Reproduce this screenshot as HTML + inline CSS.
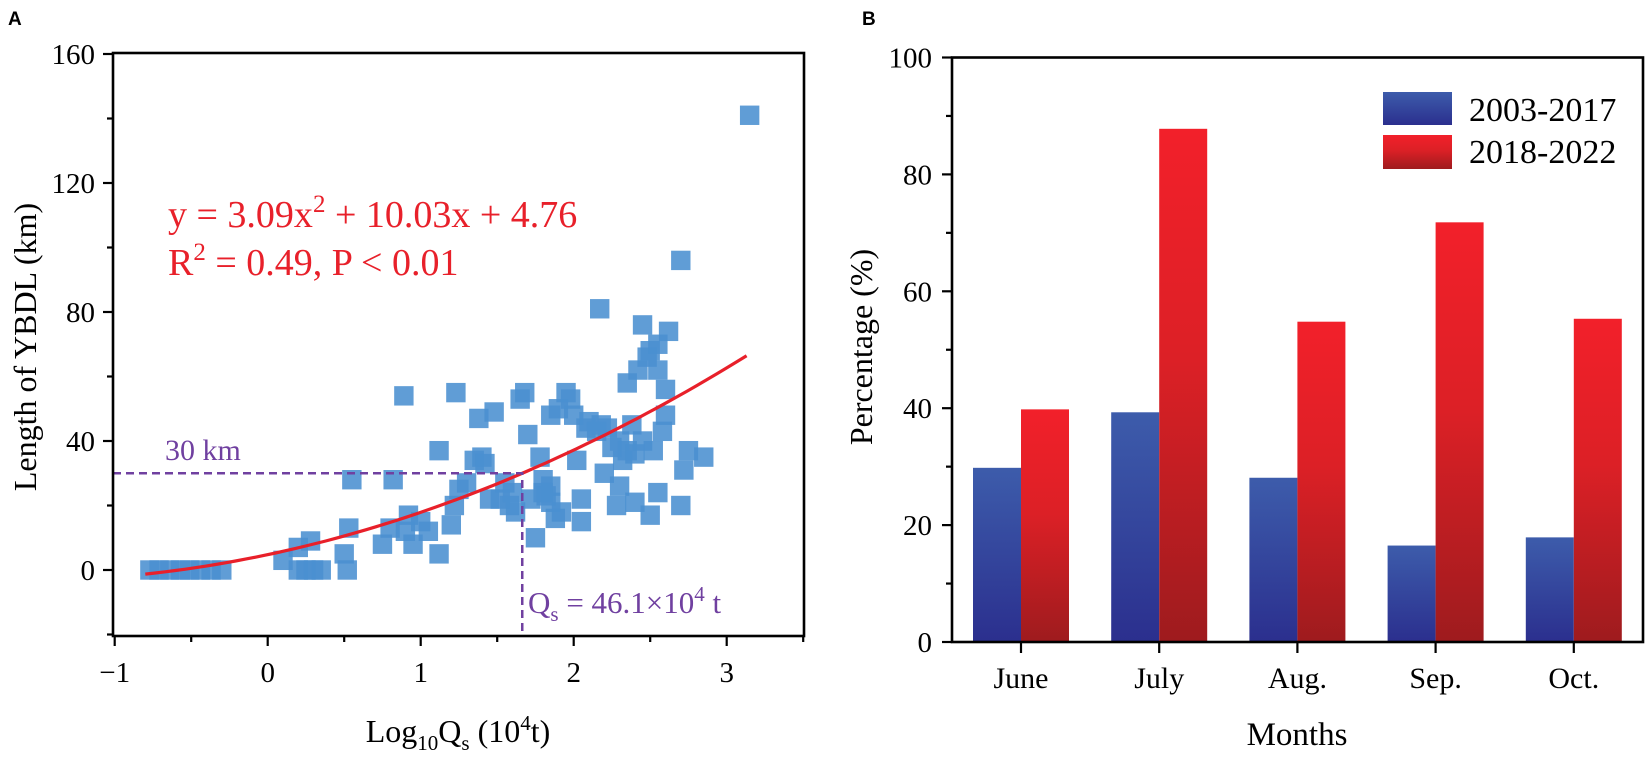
<!DOCTYPE html>
<html><head><meta charset="utf-8"><style>
body{margin:0;background:#fff;}
svg{display:block;font-family:"Liberation Serif",serif;}
</style></head><body>
<svg width="1647" height="763" viewBox="0 0 1647 763">
<defs>
<linearGradient id="gBlue" x1="0" y1="0" x2="0" y2="1"><stop offset="0" stop-color="#3d5cab"/><stop offset="1" stop-color="#2b2f8e"/></linearGradient>
<linearGradient id="gRed" x1="0" y1="0" x2="0" y2="1"><stop offset="0" stop-color="#f2202a"/><stop offset="0.45" stop-color="#dc2026"/><stop offset="1" stop-color="#9e1b1e"/></linearGradient>
</defs>
<text x="8" y="25" font-family="Liberation Sans" font-weight="bold" font-size="19">A</text>
<text x="862" y="25" font-family="Liberation Sans" font-weight="bold" font-size="19">B</text>
<g id="left"></g>
<g id="right"></g>
</svg>
<script>
// ---- Panel A data ----
const scatterX = [-0.77,-0.71,-0.64,-0.57,-0.51,-0.44,-0.37,-0.30,0.1,0.2,0.28,0.2,0.25,0.3,0.35,0.5,0.52,0.53,0.55,0.75,0.8,0.82,0.9,0.92,0.95,1.0,1.05,1.12,1.12,1.2,1.22,1.25,1.3,1.35,1.38,1.4,1.42,1.45,1.48,1.52,1.55,1.58,1.6,1.62,1.65,1.68,1.7,1.72,1.75,1.78,1.8,1.82,1.85,1.88,1.85,1.9,1.92,1.95,1.98,2.0,2.02,2.05,2.05,2.08,2.1,2.15,2.18,2.2,2.22,2.25,2.28,2.3,2.32,2.35,2.35,2.38,2.4,2.4,2.42,2.45,2.48,2.5,2.5,2.52,2.55,2.55,2.58,2.6,2.6,2.62,2.7,2.72,2.75,2.85,2.7,3.15,2.17,0.89,1.23,1.8,1.85,2.3,2.45,2.55];
const scatterY = [0,0,0,0,0,0,0,0,3,7,9,0,0,0,0,5,0,13,28,8,13,28,12,17,8,15,12,5,37,14,20,25,27,34,47,35,33,22,49,22,27,20,24,18,53,55,42,22,10,35,28,23,26,16,48,50,18,55,53,48,34,22,15,44,46,43,45,30,44,38,20,26,34,37,58,45,21,36,62,76,66,68,17,37,62,24,43,48,56,74,20,31,37,35,96,141,81,54,55,24,21,40,40,70];
const fitCoef = [3.09, 10.03, 4.76];
const fitRange = [-0.8, 3.13];
const xTicksA = [-1,0,1,2,3];
const yTicksA = [0,40,80,120,160];
// ---- Panel B data ----
const months = ["June","July","Aug.","Sep.","Oct."];
const series1 = [29.8,39.3,28.1,16.5,17.9];
const series2 = [39.8,87.8,54.8,71.8,55.3];
const yTicksB = [0,20,40,60,80,100];

const NS="http://www.w3.org/2000/svg";
function mk(parent,tag,attrs,text){const e=document.createElementNS(NS,tag);for(const k in attrs)e.setAttribute(k,attrs[k]);if(text!==undefined)e.textContent=text;parent.appendChild(e);return e;}

// Panel A
const L=document.getElementById('left');
const ax=v=>267.7+v*153, ay=v=>570-v*3.225;
const axL=113, axR=804, axT=53, axB=636;
for(let i=0;i<scatterX.length;i++){
  const r=mk(L,'rect',{x:ax(scatterX[i])-9.7,y:ay(scatterY[i])-9.7,width:19.4,height:19.4,fill:'#4a8fd0','fill-opacity':0.88});
  
  
}
let d='';
for(let i=0;i<=60;i++){const x=fitRange[0]+(fitRange[1]-fitRange[0])*i/60;const y=fitCoef[0]*x*x+fitCoef[1]*x+fitCoef[2];d+=(i?'L':'M')+ax(x).toFixed(1)+' '+ay(y).toFixed(1);}
const fl=mk(L,'path',{d:d,fill:'none',stroke:'#e8202a','stroke-width':3.2});


const qx=ax(Math.log10(46.1));
const h=mk(L,'path',{d:`M${axL} ${ay(30)}H${qx}V${axB}`,fill:'none',stroke:'#7040a0','stroke-width':2.5,'stroke-dasharray':'8 5'});


mk(L,'rect',{x:axL,y:axT,width:axR-axL,height:axB-axT,fill:'none',stroke:'#000','stroke-width':2.6});
for(let v=-1;v<=3.5;v+=0.5){const x=ax(v);mk(L,'line',{x1:x,x2:x,y1:axB,y2:axB+(Number.isInteger(v)?10:6),stroke:'#000','stroke-width':2.2});}
xTicksA.forEach(v=>{const t=mk(L,'text',{x:ax(v),y:axB+46,'text-anchor':'middle','font-size':29},v<0?'\u2212'+(-v):v);});
for(let v=-20;v<=160;v+=20){const y=ay(v);mk(L,'line',{x1:axL,x2:axL-(v%40===0?10:6),y1:y,y2:y,stroke:'#000','stroke-width':2.2});}
yTicksA.forEach(v=>{const t=mk(L,'text',{x:axL-18,y:ay(v)+10,'text-anchor':'end','font-size':29},v);});
L.insertAdjacentHTML('beforeend',`
<text x="36" y="347" transform="rotate(-90 36 347)" text-anchor="middle" font-size="32">Length of YBDL (km)</text>
<text x="458" y="742" text-anchor="middle" font-size="32">Log<tspan font-size="21" dy="8">10</tspan><tspan dy="-8">Q</tspan><tspan font-size="21" dy="8">s</tspan><tspan dy="-8"> (10</tspan><tspan font-size="21" dy="-12">4</tspan><tspan dy="12">t)</tspan></text>
<text x="168" y="227" fill="#e8202a" font-size="38">y = 3.09x<tspan font-size="25" dy="-15">2</tspan><tspan dy="15"> + 10.03x + 4.76</tspan></text>
<text x="168" y="275" fill="#e8202a" font-size="38">R<tspan font-size="25" dy="-15">2</tspan><tspan dy="15"> = 0.49, P &lt; 0.01</tspan></text>
<text x="165" y="460" fill="#7040a0" font-size="30">30 km</text>
<text x="528" y="613" fill="#7040a0" font-size="31">Q<tspan font-size="21" dy="8">s</tspan><tspan dy="-8"> = 46.1×10</tspan><tspan font-size="21" dy="-12">4</tspan><tspan dy="12"> t</tspan></text>`);

// Panel B
const R=document.getElementById('right');
const bL=952,bR=1643,bT=57.5,bB=642;
const by=v=>bB-v*(bB-bT)/100;
const step=(bR-bL)/months.length;
const bx=i=>1021+step*i;
const bw=48;
months.forEach((m,i)=>{
  const c=bx(i);
  const b1=mk(R,'rect',{x:c-bw,y:by(series1[i]),width:bw,height:bB-by(series1[i]),fill:'url(#gBlue)'});
  
  
  const b2=mk(R,'rect',{x:c,y:by(series2[i]),width:bw,height:bB-by(series2[i]),fill:'url(#gRed)'});
  
  
  const t=mk(R,'text',{x:c,y:688,'text-anchor':'middle','font-size':30},m);
  
  
  mk(R,'line',{x1:c,x2:c,y1:bB,y2:bB+11,stroke:'#000','stroke-width':2.2});
});
mk(R,'rect',{x:bL,y:bT,width:bR-bL,height:bB-bT,fill:'none',stroke:'#000','stroke-width':2.6});
for(let v=0;v<=100;v+=10){const y=by(v);mk(R,'line',{x1:bL,x2:bL-(v%20===0?10:6),y1:y,y2:y,stroke:'#000','stroke-width':2.2});}
yTicksB.forEach(v=>{const t=mk(R,'text',{x:932,y:by(v)+10,'text-anchor':'end','font-size':29},v);});
R.insertAdjacentHTML('beforeend',`
<text x="872" y="347" transform="rotate(-90 872 347)" text-anchor="middle" font-size="32">Percentage (%)</text>
<text x="1297" y="745" text-anchor="middle" font-size="33">Months</text>
<g>
<rect x="1383" y="92" width="69" height="33" fill="url(#gBlue)"/>
<text x="1469" y="121" font-size="34">2003-2017</text>
<rect x="1383" y="135" width="69" height="34" fill="url(#gRed)"/>
<text x="1469" y="163" font-size="34">2018-2022</text>
</g>`);
</script>
</body></html>
